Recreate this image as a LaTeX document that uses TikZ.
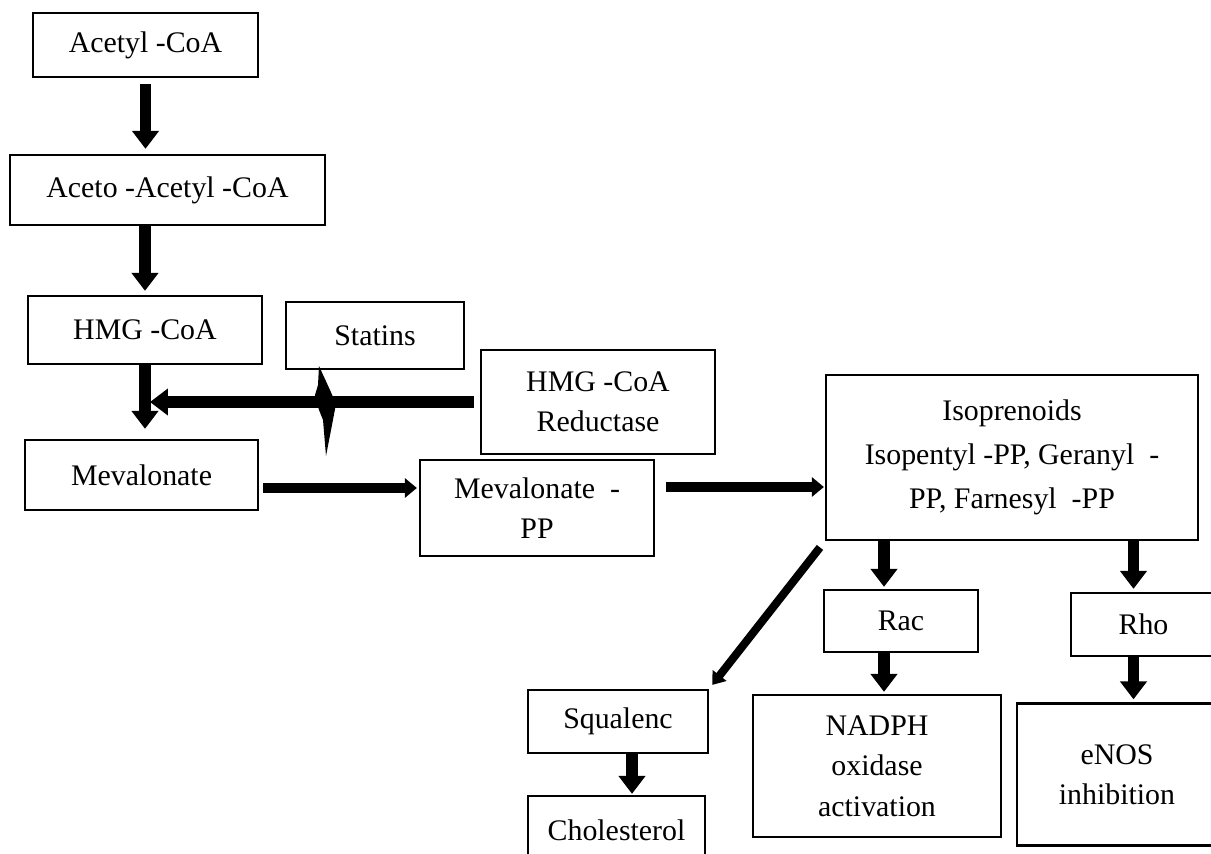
\documentclass[tikz,border=0pt]{standalone}
\usepackage{fontspec}
\setmainfont{Liberation Serif}
\usetikzlibrary{arrows.meta}

\begin{document}
\begin{tikzpicture}[x=0.02cm, y=-0.02cm,
  box/.style={draw, line width=1.3pt, align=center, inner sep=2pt, font=\fontsize{17}{23}\selectfont},
  flow/.style={line width=6.5pt, -{Triangle[width=0.52cm,length=0.36cm]}},
  side flow/.style={line width=5.5pt, -{Triangle[width=0.38cm,length=0.24cm]}},
  thin flow/.style={line width=4.6pt, -{Triangle[width=0.34cm,length=0.24cm]}}]
\useasboundingbox (0,0) rectangle (1211,854);
\clip (0,0) rectangle (1211,854);

% mevalonate pathway
\node[box, minimum width=4.5cm, minimum height=1.28cm] (acetyl) at (145.5,45) {Acetyl -CoA};
\node[box, minimum width=6.3cm, minimum height=1.4cm] (aceto) at (167.5,190) {Aceto -Acetyl -CoA};
\node[box, minimum width=4.68cm, minimum height=1.36cm] (hmg) at (145,330) {HMG -CoA};
\node[box, minimum width=3.56cm, minimum height=1.34cm] (statins) at (375,335.5) {Statins};
\node[box, minimum width=4.68cm, minimum height=2.08cm] (reductase) at (598,402) {HMG -CoA\\Reductase};
\node[box, minimum width=4.66cm, minimum height=1.4cm] (meval) at (141.5,475) {Mevalonate};
\node[box, minimum width=4.68cm, minimum height=1.92cm] (mevpp) at (537,508) {Mevalonate \ -\\PP};
\node[box, minimum width=7.44cm, minimum height=3.3cm] (isopren) at (1012,457.5)
  {Isoprenoids\\[2pt]Isopentyl -PP, Geranyl \ -\\[2pt]PP, Farnesyl \ -PP};

% products
\node[box, minimum width=3.08cm, minimum height=1.24cm] (rac) at (901,621) {Rac};
\node[box, minimum width=2.9cm, minimum height=1.26cm] (rho) at (1143.5,624.5) {Rho};
\node[box, minimum width=3.6cm, minimum height=1.26cm] (squalene) at (618,721.5) {Squalenc};
\node[box, minimum width=3.54cm, minimum height=1.36cm] (chol) at (616.5,830) {Cholesterol};
\node[box, minimum width=4.96cm, minimum height=2.84cm] (nadph) at (877,766) {NADPH\\oxidase\\activation};
\node[box, minimum width=4cm, minimum height=2.84cm] (enos) at (1117,774.5) {eNOS\\inhibition};

% arrows down the chain
\draw[flow, shorten <=0.12cm, shorten >=0.1cm] (acetyl.south) -- (acetyl.south |- aceto.north);
\draw[flow, shorten >=0.08cm] (hmg.north |- aceto.south) -- (hmg.north);
\draw[flow, shorten >=0.2cm] (hmg.south) -- (hmg.south |- meval.north);
\draw[flow, shorten <=0.12cm, shorten >=0.1cm] (reductase.west) -- (hmg.south |- reductase.west);

% statin block
\fill (319,366) -- (330,390) -- (336,404) -- (332,425) -- (326,456) -- (323,420)
  -- (319,410) -- (315,395) -- (318,385) -- cycle;

\draw[side flow, shorten <=0.08cm, shorten >=0.04cm] ([yshift=-0.26cm]meval.east) -- ([yshift=-0.26cm]meval.east -| mevpp.west);
\draw[side flow, shorten <=0.22cm, shorten >=0.02cm] ([yshift=0.42cm]mevpp.east) -- ([yshift=0.42cm]mevpp.east -| isopren.west);

% branches
\draw[thin flow, shorten <=0.16cm, shorten >=0.1cm] (isopren.south west) -- (squalene.north east);
\draw[flow, shorten >=0.04cm] ([xshift=-0.34cm]rac.north |- isopren.south) -- ([xshift=-0.34cm]rac.north);
\draw[flow, shorten >=0.04cm] ([xshift=-0.34cm]rac.south) -- ([xshift=-0.34cm]rac.south |- nadph.north);
\draw[flow, shorten >=0.06cm] ([xshift=-0.2cm]rho.north |- isopren.south) -- ([xshift=-0.2cm]rho.north);
\draw[flow, shorten >=0.06cm] ([xshift=-0.2cm]rho.south) -- ([xshift=-0.2cm]rho.south |- enos.north);
\draw[flow, shorten >=0.02cm] ([xshift=0.28cm]squalene.south) -- ([xshift=0.28cm]squalene.south |- chol.north);
\end{tikzpicture}
\end{document}
